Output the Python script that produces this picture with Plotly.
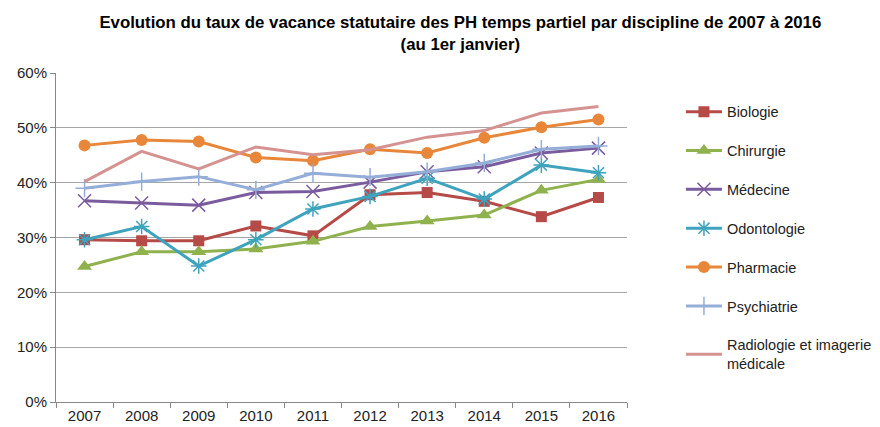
import plotly.graph_objects as go

years = ["2007", "2008", "2009", "2010", "2011", "2012", "2013", "2014", "2015", "2016"]
biologie = [29.6, 29.4, 29.4, 32.1, 30.3, 37.8, 38.2, 36.6, 33.8, 37.3]
chirurgie = [24.7, 27.4, 27.4, 27.9, 29.3, 32.0, 33.0, 34.1, 38.6, 40.6]
medecine = [36.7, 36.3, 35.9, 38.2, 38.4, 40.1, 42.0, 42.9, 45.4, 46.3]
odontologie = [29.6, 32.0, 24.8, 29.6, 35.2, 37.5, 40.8, 37.0, 43.2, 41.8]
pharmacie = [46.8, 47.8, 47.5, 44.6, 44.0, 46.1, 45.4, 48.2, 50.1, 51.5]
psychiatrie = [39.0, 40.2, 41.1, 38.7, 41.7, 41.0, 42.0, 43.6, 46.1, 46.7]
radiologie = [40.2, 45.7, 42.5, 46.5, 45.1, 46.0, 48.3, 49.5, 52.7, 53.9]
y_ticks = [0, 10, 20, 30, 40, 50, 60]
y_labels = ["0%", "10%", "20%", "30%", "40%", "50%", "60%"]

series = [
    ("Biologie", biologie, "#B54A47", "square", 11, 0),
    ("Chirurgie", chirurgie, "#8FB24E", "triangle-up", 13, 0),
    ("Médecine", medecine, "#7A5C9E", "x-thin-open", 13, 1.5),
    ("Odontologie", odontologie, "#3FA3BE", "asterisk-open", 13, 1.5),
    ("Pharmacie", pharmacie, "#E8873A", "circle", 12, 0),
    ("Psychiatrie", psychiatrie, "#94AED8", "cross-thin-open", 13, 1.5),
    ("Radiologie et imagerie<br>médicale", radiologie, "#D49391", None, 0, 0),
]

fig = go.Figure()
for i, (name, vals, color, sym, size, lw) in enumerate(series):
    if sym is None:
        fig.add_trace(go.Scatter(x=years, y=vals, name=name, mode="lines",
                                 line=dict(color=color, width=3),
                                 legendgroup=str(i)))
    else:
        marker = dict(symbol=sym, size=size, color=color)
        if lw:
            marker["line"] = dict(color=color, width=lw)
        fig.add_trace(go.Scatter(x=years, y=vals, name=name, mode="lines+markers",
                                 line=dict(color=color, width=3), marker=marker,
                                 legendgroup=str(i)))

fig.update_layout(
    width=880, height=427,
    margin=dict(l=48, r=261, t=65, b=33, autoexpand=False),
    paper_bgcolor="white", plot_bgcolor="white",
    font=dict(family="Liberation Sans, Arial, sans-serif", size=15, color="#222"),
    title=dict(text="<b>Evolution du taux de vacance statutaire des PH temps partiel par discipline de 2007 à 2016<br>(au 1er janvier)</b>",
               x=0.514, xanchor="center", y=0.953, yanchor="top",
               font=dict(size=16.8, color="#000")),
    legend=dict(x=1.0945, y=0.931, xanchor="left", yanchor="top",
                font=dict(size=14.5, color="#222"), tracegroupgap=17,
                itemwidth=36,
                traceorder="grouped", bgcolor="rgba(0,0,0,0)"),
    showlegend=True,
)
fig.update_xaxes(type="category", range=[-0.5, 9.5], tickson="boundaries",
                 ticks="outside", ticklen=5, tickcolor="#888",
                 showline=True, linecolor="#888", linewidth=1, showgrid=False,
                 tickfont=dict(size=15, color="#222"), automargin=False)
fig.update_yaxes(range=[0, 60], tickvals=y_ticks, ticktext=y_labels,
                 ticks="outside", ticklen=5, tickcolor="#888",
                 showline=True, linecolor="#888", linewidth=1,
                 showgrid=True, gridcolor="#A6A6A6", gridwidth=1,
                 zeroline=False, tickfont=dict(size=15, color="#222"), automargin=False)

fig.write_html("out.html")
